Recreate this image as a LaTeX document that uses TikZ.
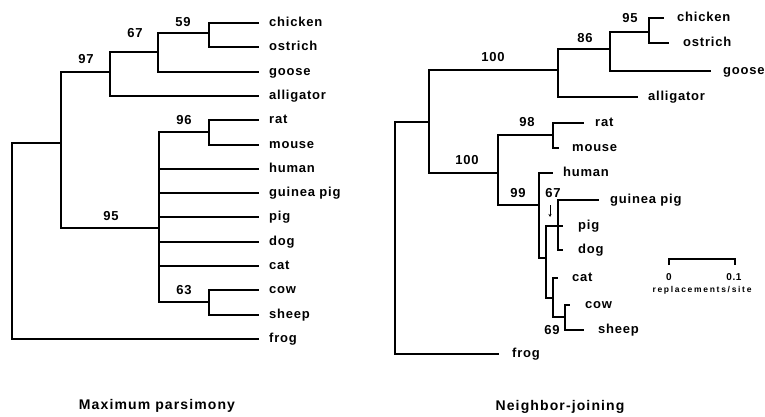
\documentclass[tikz,border=0pt]{standalone}
\usepackage{fontspec}
\usetikzlibrary{arrows.meta}
\newfontfamily\labf{Liberation Sans}[LetterSpace=6]
\newfontfamily\titf{Liberation Sans}[LetterSpace=8]
\newfontfamily\smallf{Liberation Sans}[LetterSpace=20]
\begin{document}
\begin{tikzpicture}[x=1pt,y=-1pt,
  br/.style={line width=2.2pt,line cap=rect},
  leaf/.style={anchor=west,inner xsep=0pt,inner ysep=0pt,font=\labf\bfseries\fontsize{13}{13}\selectfont,text height=6.5pt,text depth=0pt},
  num/.style={inner sep=0pt,font=\labf\bfseries\fontsize{13}{13}\selectfont},
  ttl/.style={inner sep=0pt,font=\titf\bfseries\fontsize{14}{14}\selectfont},
  sml/.style={inner sep=0pt,font=\smallf\bfseries\fontsize{8.5}{8.5}\selectfont},
  snum/.style={inner sep=0pt,font=\labf\bfseries\fontsize{10}{10}\selectfont}]
\useasboundingbox (0,0) rectangle (765,416);
% ---------- left tree: Maximum parsimony ----------
\coordinate (L0) at (12,240);
\coordinate (L1) at (61,143);
\coordinate (Lb) at (110,72);
\coordinate (L67) at (158,52);
\coordinate (L59) at (209,33);
\coordinate (Lm) at (159,228);
\coordinate (Lrm) at (209,132);
\coordinate (Lcs) at (209,302);
\foreach \n/\y in {chicken/23,ostrich/47,goose/72,alligator/96,rat/120,mouse/145,human/169,guinea/193,pig/217,dog/242,cat/266,cow/290,sheep/315,frog/339}{
  \coordinate (Le\n) at (258,\y);
}
\foreach \n/\t in {chicken/chicken,ostrich/ostrich,goose/goose,alligator/alligator,rat/rat,mouse/mouse,human/human,guinea/guinea pig,pig/pig,dog/dog,cat/cat,cow/cow,sheep/sheep,frog/frog}{
  \node[leaf] (Lt\n) at ([xshift=11pt]Le\n) {\t};
}
\draw[br] (L0) |- (L1);
\draw[br] (L0) |- (Lefrog);
\draw[br] (L1) |- (Lb);
\draw[br] (L1) |- (Lm);
\draw[br] (Lb) |- (L67);
\draw[br] (Lb) |- (Lealligator);
\draw[br] (L67) |- (L59);
\draw[br] (L67) |- (Legoose);
\draw[br] (L59) |- (Lechicken);
\draw[br] (L59) |- (Leostrich);
\draw[br] (Lm) |- (Lrm);
\draw[br] (Lrm) |- (Lerat);
\draw[br] (Lrm) |- (Lemouse);
\foreach \n in {human,guinea,pig,dog,cat}{\draw[br] (Lm) |- (Le\n);}
\draw[br] (Lm) |- (Lcs);
\draw[br] (Lcs) |- (Lecow);
\draw[br] (Lcs) |- (Lesheep);
\node[num] (n59) at (183,22) {59};
\node[num] (n67) at (135,33) {67};
\node[num] (n97) at (86,59) {97};
\node[num] (n96) at (184,120) {96};
\node[num] (n95) at (111,216) {95};
\node[num] (n63) at (184,290) {63};
\node[ttl] (t1) at (157,406) {Maximum parsimony};
% ---------- right tree: Neighbor-joining ----------
\coordinate (R0) at (395,240);
\coordinate (R1) at (429,122);
\coordinate (Rb) at (558,70);
\coordinate (R86) at (610,49);
\coordinate (R95) at (649,32);
\coordinate (Rm) at (498,173);
\coordinate (Rrm) at (553,135);
\coordinate (R99) at (539,205);
\coordinate (R67) at (546,258);
\coordinate (Rgpd) at (558,226);
\coordinate (Rccs) at (553,298);
\coordinate (Rcs) at (565,317);
\foreach \n/\x/\y in {chicken/663/18,ostrich/668/43,goose/710/71,alligator/637/97,rat/583/123,mouse/558/148,human/552/173,guinea/598/200,pig/562/226,dog/562/250,cat/557/278,cow/569/305,sheep/583/330,frog/498/354}{
  \coordinate (Re\n) at (\x,\y);
}
\foreach \n/\t/\g in {chicken/chicken/14,ostrich/ostrich/15,goose/goose/13,alligator/alligator/11,rat/rat/12,mouse/mouse/14,human/human/11,guinea/guinea pig/12,pig/pig/16,dog/dog/16,cat/cat/15,cow/cow/16,sheep/sheep/15,frog/frog/14}{
  \node[leaf] (Rt\n) at ([xshift=\g pt]Re\n) {\t};
}
\draw[br] (R0) |- (R1);
\draw[br] (R0) |- (Refrog);
\draw[br] (R1) |- (Rb);
\draw[br] (R1) |- (Rm);
\draw[br] (Rb) |- (R86);
\draw[br] (Rb) |- (Realligator);
\draw[br] (R86) |- (R95);
\draw[br] (R86) |- (Regoose);
\draw[br] (R95) |- (Rechicken);
\draw[br] (R95) |- (Reostrich);
\draw[br] (Rm) |- (Rrm);
\draw[br] (Rm) |- (R99);
\draw[br] (Rrm) |- (Rerat);
\draw[br] (Rrm) |- (Remouse);
\draw[br] (R99) |- (Rehuman);
\draw[br] (R99) |- (R67);
\draw[br] (R67) |- (Rgpd);
\draw[br] (R67) |- (Rccs);
\draw[br] (Rgpd) |- (Reguinea);
\draw[br] (Rgpd) |- (Repig);
\draw[br] (Rgpd) |- (Redog);
\draw[br] (Rccs) |- (Recat);
\draw[br] (Rccs) |- (Rcs);
\draw[br] (Rcs) |- (Recow);
\draw[br] (Rcs) |- (Resheep);
\node[num] (m95) at (630,18) {95};
\node[num] (m86) at (585,38) {86};
\node[num] (m100a) at (493,57) {100};
\node[num] (m98) at (527,122) {98};
\node[num] (m100b) at (467,160) {100};
\node[num] (m99) at (518,193) {99};
\node[num] (m67) at (553,193) {67};
\coordinate (arA) at (550,205);
\coordinate (arB) at (550,217);
\draw[line width=0.9pt,-{Stealth[length=3pt,width=3pt]}] (arA) -- (arB);
\node[num] (m69) at (552,330) {69};
% scale bar
\coordinate (sb0) at (669,259);
\coordinate (sb1) at (735,259);
\draw[line width=2pt] ([yshift=-6pt]sb0) -- (sb0) -- (sb1) -- ([yshift=-6pt]sb1);
\node[snum] (s0) at (669,277) {0};
\node[snum] (s1) at (734,277) {0.1};
\node[sml] (sl) at (702,290) {replacements/site};
\node[ttl] (t2) at (560,407) {Neighbor-joining};
\end{tikzpicture}
\end{document}
